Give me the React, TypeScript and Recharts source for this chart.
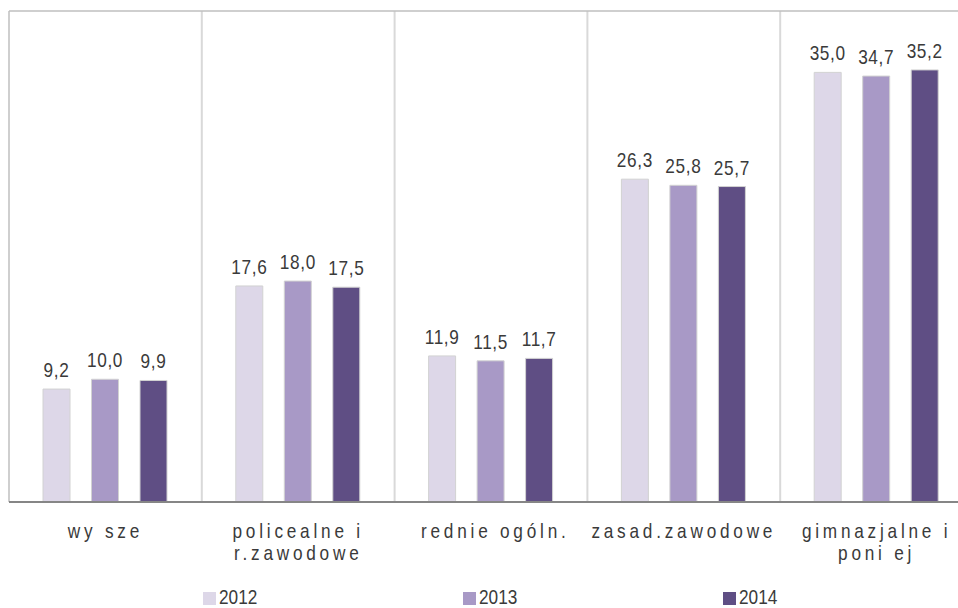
import React from "react";
import { BarChart, Bar, XAxis, YAxis, CartesianGrid, LabelList } from "recharts";

const categories: string[][] = [
  ["wy sze"],
  ["policealne i", "r.zawodowe"],
  [" rednie ogóln."],
  ["zasad.zawodowe"],
  ["gimnazjalne i", "poni ej"],
];
const series2012: number[] = [9.2, 17.6, 11.9, 26.3, 35.0];
const series2013: number[] = [10.0, 18.0, 11.5, 25.8, 34.7];
const series2014: number[] = [9.9, 17.5, 11.7, 25.7, 35.2];
const seriesNames: string[] = ["2012", "2013", "2014"];
const seriesColors: string[] = ["#ddd7e8", "#a899c6", "#5f4e84"];

const data = categories.map((c, i) => ({
  name: c.join(" "),
  y2012: series2012[i],
  y2013: series2013[i],
  y2014: series2014[i],
}));

const FONT = "'Liberation Sans', Arial, sans-serif";
const SQUEEZE = 0.82;

const CategoryTick = (props: any) => {
  const { x, y, payload } = props;
  const lines = categories[payload.index] || [payload.value];
  return (
    <g transform={`translate(${x},${y})`}>
      <text
        transform={`scale(${SQUEEZE},1)`}
        textAnchor="middle"
        fill="#3a3a3a"
        style={{ fontFamily: FONT, fontSize: 21, letterSpacing: 4.6, whiteSpace: "pre" }}
      >
        {lines.map((l, i) => (
          <tspan key={i} x={0} dy={i === 0 ? 28 : 22}>
            {l}
          </tspan>
        ))}
      </text>
    </g>
  );
};

const fmt = (v: any) => Number(v).toFixed(1).replace(".", ",");

const ValueLabel = (props: any) => {
  const { x, y, width, value } = props;
  const cx = Number(x) + Number(width) / 2;
  const by = Number(y) - 12;
  return (
    <text
      transform={`translate(${cx},${by}) scale(${SQUEEZE},1)`}
      textAnchor="middle"
      fill="#3a3a3a"
      style={{ fontFamily: FONT, fontSize: 21, letterSpacing: 0.8 }}
    >
      {fmt(value)}
    </text>
  );
};

export default function App() {
  return (
    <div
      style={{
        position: "absolute",
        left: 0,
        top: 0,
        width: 958,
        height: 608,
        overflow: "hidden",
        background: "#fff",
      }}
    >
      <BarChart
        width={990}
        height={608}
        data={data}
        margin={{ top: 11, right: 17, bottom: 76, left: 9 }}
        barSize={27}
        barGap={21.5}
      >
        <CartesianGrid
          horizontal={false}
          stroke="#d9d9d9"
          strokeWidth={2}
          verticalCoordinatesGenerator={({ offset }: any) =>
            [1, 2, 3, 4].map((i) => offset.left + (offset.width * i) / categories.length)
          }
        />
        <CartesianGrid
          stroke="#bfbfbf"
          strokeWidth={1.5}
          horizontalCoordinatesGenerator={({ offset }: any) => [offset.top]}
          verticalCoordinatesGenerator={({ offset }: any) => [offset.left]}
        />
        <XAxis
          dataKey="name"
          tickLine={false}
          axisLine={{ stroke: "#868686", strokeWidth: 2 }}
          tick={<CategoryTick />}
          interval={0}
          height={30}
        />
        <YAxis hide domain={[0, 40]} />
        {["y2012", "y2013", "y2014"].map((k, i) => (
          <Bar
            key={k}
            dataKey={k}
            name={seriesNames[i]}
            fill={seriesColors[i]}
            stroke="#d2d2d2"
            strokeWidth={1}
            isAnimationActive={false}
          >
            <LabelList dataKey={k} position="top" content={<ValueLabel />} />
          </Bar>
        ))}
      </BarChart>
      {seriesNames.map((n, i) => (
        <div
          key={n}
          style={{
            position: "absolute",
            left: 203 + i * 260,
            top: 588,
            height: 17,
            display: "flex",
            fontFamily: FONT,
            fontSize: 21,
            lineHeight: "17px",
            color: "#3a3a3a",
          }}
        >
          <span
            style={{
              display: "inline-block",
              width: 13,
              height: 13,
              marginTop: 4,
              background: seriesColors[i],
            }}
          />
          <span
            style={{
              display: "inline-block",
              marginLeft: 3,
              transform: `scaleX(${SQUEEZE})`,
              transformOrigin: "left center",
            }}
          >
            {n}
          </span>
        </div>
      ))}
    </div>
  );
}
